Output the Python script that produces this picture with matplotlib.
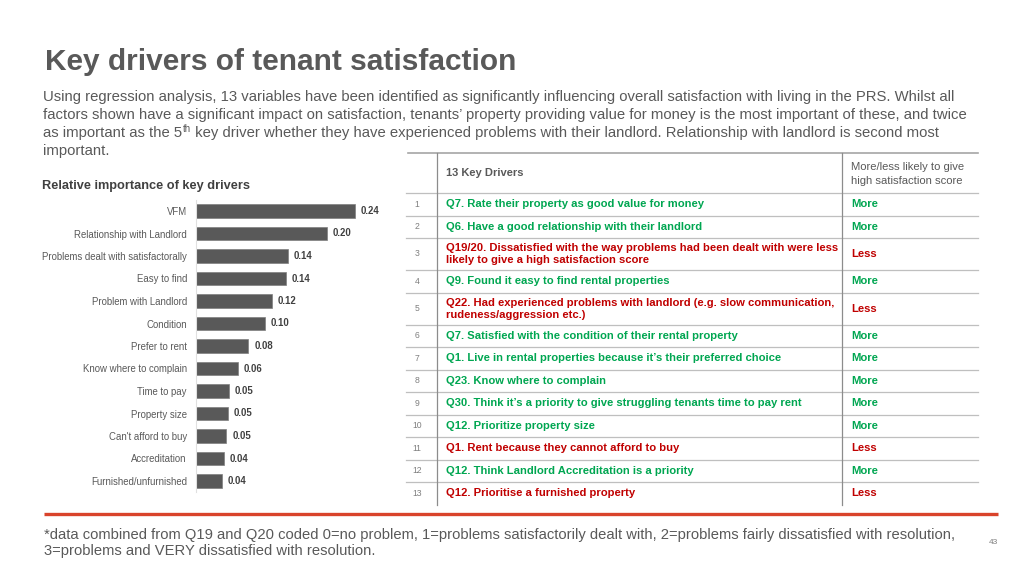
import matplotlib.pyplot as plt
from matplotlib import font_manager

plt.rcParams['font.family'] = ['Liberation Sans', 'DejaVu Sans']

# dados
categorias = ['VFM', 'Relationship with Landlord', 'Problems dealt with satisfactorally',
              'Easy to find', 'Problem with Landlord', 'Condition', 'Prefer to rent',
              'Know where to complain', 'Time to pay', 'Property size',
              "Can't afford to buy", 'Accreditation', 'Furnished/unfurnished']
importancia = [0.240, 0.198, 0.139, 0.136, 0.115, 0.104, 0.079, 0.063, 0.050, 0.048, 0.046, 0.042, 0.039]

drivers = [
    'Q7. Rate their property as good value for money',
    'Q6. Have a good relationship with their landlord',
    'Q19/20. Dissatisfied with the way problems had been dealt with were less\nlikely to give a high satisfaction score',
    'Q9. Found it easy to find rental properties',
    'Q22. Had experienced problems with landlord (e.g. slow communication,\nrudeness/aggression etc.)',
    'Q7. Satisfied with the condition of their rental property',
    'Q1. Live in rental properties because it\u2019s their preferred choice',
    'Q23. Know where to complain',
    'Q30. Think it\u2019s a priority to give struggling tenants time to pay rent',
    'Q12. Prioritize property size',
    'Q1. Rent because they cannot afford to buy',
    'Q12. Think Landlord Accreditation is a priority',
    'Q12. Prioritise a furnished property',
]
direcao = ['More', 'More', 'Less', 'More', 'Less', 'More', 'More', 'More', 'More', 'More', 'Less', 'More', 'Less']

paragrafo = [
    'Using regression analysis, 13 variables have been identified as significantly influencing overall satisfaction with living in the PRS. Whilst all',
    'factors shown have a significant impact on satisfaction, tenants\u2019 property providing value for money is the most important of these, and twice',
    ('as important as the 5', 'th', ' key driver whether they have experienced problems with their landlord. Relationship with landlord is second most'),
    'important.',
]

CINZA = '#595959'
VERDE = '#00A651'
VERMELHO = '#C00000'

W, H = 1024, 576
fig = plt.figure(figsize=(W / 100, H / 100), dpi=100)

# camada de fundo em coordenadas de pixel
bg = fig.add_axes([0, 0, 1, 1])
bg.set_xlim(0, W)
bg.set_ylim(H, 0)
bg.axis('off')

# Título e texto
bg.text(45, 62, 'Key drivers of tenant satisfaction', fontsize=21.5, fontweight='bold',
        color=CINZA, va='center', ha='left')

fig.canvas.draw()
renderer = fig.canvas.get_renderer()
TP = 10.75
for i, linha in enumerate(paragrafo):
    y = 97 + 18 * i
    if isinstance(linha, tuple):
        t = bg.text(43, y, linha[0], fontsize=TP, color=CINZA, va='center')
        bb = t.get_window_extent(renderer)
        t2 = bg.text(bb.x1 + 0.5, y - 4.5, linha[1], fontsize=7, color=CINZA, va='center')
        bb2 = t2.get_window_extent(renderer)
        bg.text(bb2.x1, y, linha[2], fontsize=TP, color=CINZA, va='center')
    else:
        bg.text(43, y, linha, fontsize=TP, color=CINZA, va='center')

bg.text(42, 186, 'Relative importance of key drivers', fontsize=9.2, fontweight='bold',
        color='#404040', va='center')

# Gráfico de barras
passo = 22.5
y0, y1 = 211 - passo / 2, 481 + passo / 2
ax = fig.add_axes([196 / W, 1 - y1 / H, 200 / W, (y1 - y0) / H])
pos = list(range(len(categorias)))
barras = ax.barh(pos, importancia, height=0.62, color=CINZA, edgecolor='#7f7f7f', linewidth=0.5)
ax.set_ylim(len(categorias) - 0.5, -0.5)
ax.set_xlim(0, 200 / 662)
ax.set_yticks(pos)
ax.set_yticklabels(categorias, fontsize=6.9, color=CINZA)
ax.tick_params(axis='y', length=0, pad=6.5)
ax.set_xticks([])
for s in ['top', 'right', 'bottom']:
    ax.spines[s].set_visible(False)
ax.spines['left'].set_color('#e0e0e0')
for bar, valor in zip(barras, importancia):
    ax.text(bar.get_width() + 0.009, bar.get_y() + bar.get_height() / 2, f'{valor:.2f}',
            fontsize=6.9, fontweight='bold', color='#404040', va='center', ha='left')

# Tabela
xl, xc1, xc2, xr = 406, 437, 842, 978
topo, cab = 153, 193
FT = 8.1
alturas = [32 if '\n' in d else 22.5 for d in drivers]
bg.plot([xl + 2, xr], [topo, topo], color='#a6a6a6', lw=1.2)
bg.text(446, 173, '13 Key Drivers', fontsize=8, fontweight='bold', color=CINZA, va='center')
bg.text(851, 174, 'More/less likely to give\nhigh satisfaction score', fontsize=8.1, color=CINZA,
        va='center', linespacing=1.45)
y = cab
for i, (d, m, h) in enumerate(zip(drivers, direcao, alturas)):
    bg.plot([xl, xr], [y, y], color='#bfbfbf', lw=0.9)
    cor = VERDE if m == 'More' else VERMELHO
    yc = y + h / 2
    bg.text(417, yc, str(i + 1), fontsize=6.2, color='#7f7f7f', va='center', ha='center')
    bg.text(446, yc, d, fontsize=FT, fontweight='bold', color=cor, va='center', linespacing=1.25)
    bg.text(851, yc, m, fontsize=FT, fontweight='bold', color=cor, va='center')
    y += h
for xv in [xc1, xc2]:
    bg.plot([xv, xv], [topo, y], color='#8c8c8c', lw=0.9)

# Linha vermelha e nota de rodapé
bg.plot([44, 998], [514, 514], color='#D9432B', lw=2.4, solid_capstyle='butt')
nota = ('*data combined from Q19 and Q20 coded 0=no problem, 1=problems satisfactorily dealt with, '
        '2=problems fairly dissatisfied with resolution,\n3=problems and VERY dissatisfied with resolution.')
try:
    font_manager.findfont('Liberation Sans Narrow', fallback_to_default=False)
    fam_nota, tam_nota = ['Liberation Sans Narrow'], 13.0
except ValueError:
    fam_nota, tam_nota = ['Liberation Sans'], 10.6
bg.text(44, 543, nota, fontsize=tam_nota, color=CINZA, va='center', linespacing=1.15,
        family=fam_nota)
bg.text(993, 542, '43', fontsize=6, color='#7f7f7f', va='center', ha='center')

fig.savefig('out.png', dpi=100)
